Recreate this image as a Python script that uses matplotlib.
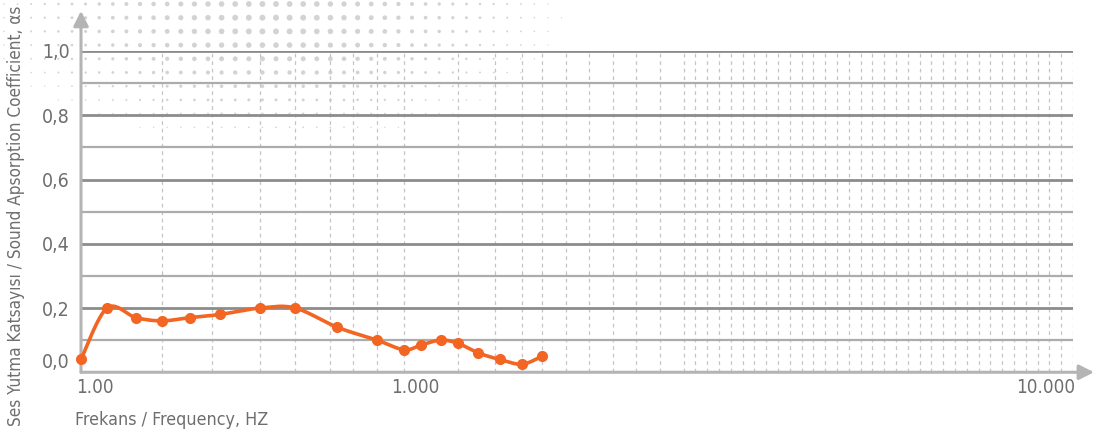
import numpy as np
import matplotlib.pyplot as plt
from matplotlib.patches import FancyArrowPatch

plt.rcParams['font.family'] = ['DejaVu Sans']
plt.rcParams['font.stretch'] = 'condensed'

# third-octave band frequencies (Hz) and absorption coefficients
freq = [100, 125, 160, 200, 250, 315, 400, 500, 630, 800,
        1000, 1250, 1600, 2000, 2500, 3150, 4000, 5000]
alpha = [0.04, 0.20, 0.17, 0.16, 0.17, 0.18, 0.20, 0.20, 0.14, 0.10,
         0.07, 0.085, 0.10, 0.09, 0.06, 0.04, 0.025, 0.05]

y_ticks = [0.0, 0.2, 0.4, 0.6, 0.8, 1.0]
y_ticklabels = ['0,0', '0,2', '0,4', '0,6', '0,8', '1,0']
x_ticks = [100, 1000, 10000]
x_ticklabels = ['1.00', '1.000', '10.000']

# the chart's frequency axis is a hand-made "log" grid, not a true log scale
scale_f = [100, 200, 300, 400, 500, 600, 700, 800, 1000, 2000, 3000, 4000, 5000, 10000]
scale_p = [0, 81, 131, 179, 214, 249, 272, 296, 323, 377, 414, 441, 461, 992]
lf = np.log10(scale_f)


def fwd(f):
    return np.interp(np.log10(np.clip(f, 1, None)), lf, scale_p)


def inv(p):
    return 10 ** np.interp(p, scale_p, lf)


grid_f = [200, 300, 400, 500, 600, 700, 800, 1000, 2000, 3000, 4000]
tail = np.geomspace(5000, 10000, 46)
grid_f += [t for i, t in enumerate(tail) if i >= 12 or i % 2 == 0]

orange = '#f26522'
txt = '#6e6e6e'
W, H = 1093, 437
fig = plt.figure(figsize=(W / 100, H / 100), dpi=100)

# decorative halftone dots in the background (top left)
bg = fig.add_axes([0, 0, 1, 1], zorder=0)
bg.set_xlim(0, W)
bg.set_ylim(H, 0)
bg.axis('off')
gx, gy = np.meshgrid(np.arange(4, 620, 13.6), np.arange(4, 160, 13.7))
d = 6.0 * np.exp(-((gx - 270) / 230) ** 2 - ((gy - 20) / 95) ** 2)
d = np.where(d > 1.2, d, 0)
bg.scatter(gx.ravel(), gy.ravel(), s=(d.ravel() * 0.72) ** 2,
           color='#d3d3d3', lw=0)

ax = fig.add_axes([81 / W, (H - 372.25) / H, 992 / W, 321.25 / H], zorder=1)
ax.patch.set_visible(False)
ax.set_xscale('function', functions=(fwd, inv))
ax.set_xlim(100, 10000)
ax.set_ylim(0, 1.0)
for s in ax.spines.values():
    s.set_visible(False)

# grid
for f in grid_f:
    ax.axvline(f, color='#c4c4c4', lw=0.9, ls=(0, (3, 3)), zorder=1)
for v in [0.1, 0.3, 0.5, 0.7, 0.9]:
    ax.axhline(v, color='#acacac', lw=1.6, zorder=2)
for v in [0.2, 0.4, 0.6, 0.8, 1.0]:
    ax.axhline(v, color='#8c8c8c', lw=2.0, zorder=2)

# smooth curve through the points (Catmull-Rom in axis space)
px = fwd(np.array(freq, float))
py = np.array(alpha, float)
P = np.column_stack([px, py])
P = np.vstack([P[0], P, P[-1]])
cx, cy = [], []
t = np.linspace(0, 1, 30)
for i in range(1, len(P) - 2):
    p0, p1, p2, p3 = P[i - 1], P[i], P[i + 1], P[i + 2]
    seg = 0.5 * ((2 * p1)[None, :] + np.outer(t, -p0 + p2)
                 + np.outer(t ** 2, 2 * p0 - 5 * p1 + 4 * p2 - p3)
                 + np.outer(t ** 3, -p0 + 3 * p1 - 3 * p2 + p3))
    cx.extend(seg[:, 0])
    cy.extend(seg[:, 1])
ax.plot(inv(np.array(cx)), cy, color=orange, lw=2.6, zorder=4, clip_on=False)
ax.plot(freq, alpha, 'o', color=orange, ms=7, zorder=5, clip_on=False)

# ticks
ax.set_yticks(y_ticks)
ax.set_yticklabels(y_ticklabels)
ax.set_xticks(x_ticks)
ax.set_xticklabels([])
ax.xaxis.set_minor_locator(plt.NullLocator())
ax.tick_params(length=0, labelsize=14, colors=txt)
ax.tick_params(axis='y', pad=8)
ax.get_yticklabels()[0].set_va('bottom')

x_offsets = [(-5, 'left'), (11, 'center'), (2, 'right')]
for f, lbl, (dx, ha) in zip(x_ticks, x_ticklabels, x_offsets):
    ax.annotate(lbl, (f, 0), xycoords=('data', 'axes fraction'),
                xytext=(dx, -15), textcoords='offset pixels',
                ha=ha, va='center', fontsize=13.5, color=txt)

# axis arrows
ax_col = '#b4b4b4'
ax.add_patch(FancyArrowPatch((0, 0), (0, 1.125), transform=ax.transAxes,
                             arrowstyle='-|>,head_length=9,head_width=4.5',
                             color=ax_col, lw=2.2, clip_on=False, zorder=3,
                             shrinkA=0, shrinkB=0))
ax.add_patch(FancyArrowPatch((0, 0), (1.0212, 0), transform=ax.transAxes,
                             arrowstyle='-|>,head_length=9,head_width=4.5',
                             color=ax_col, lw=2.2, clip_on=False, zorder=3,
                             shrinkA=0, shrinkB=0))

fig.text(75 / W, 1 - 420 / H, 'Frekans / Frequency, HZ', fontsize=12.8,
         color=txt, ha='left', va='center')
fig.text(16 / W, 1 - 426 / H, 'Ses Yutma Katsayısı / Sound Apsorption Coefficient, αs',
         fontsize=12.3, color=txt, rotation=90, ha='center', va='bottom')

fig.savefig('out.png', dpi=100)
